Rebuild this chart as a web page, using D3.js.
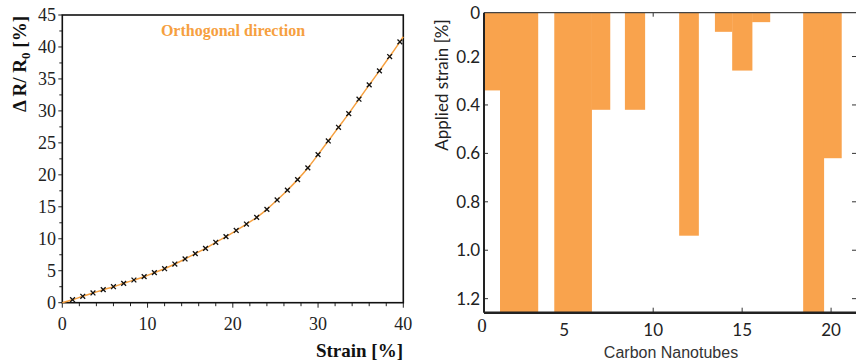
<!DOCTYPE html>
<html>
<head>
<meta charset="utf-8">
<script src="https://cdn.jsdelivr.net/npm/d3@7"></script>
<style>
  html, body { margin: 0; padding: 0; background: #fff; }
  svg { display: block; }
</style>
</head>
<body>
<svg id="chart" width="856" height="364"></svg>
<script>
// ---- Left panel: resistance change vs. strain (orthogonal direction) ----
const strain = [1.2, 2.4, 3.6, 4.8, 6.0, 7.2, 8.4, 9.6, 10.8, 12.0, 13.2, 14.4, 15.6, 16.8, 18.0,
  19.2, 20.4, 21.6, 22.8, 24.0, 25.2, 26.4, 27.6, 28.8, 30.0, 31.2, 32.4, 33.6, 34.8, 36.0,
  37.2, 38.4, 39.6];
const resistance = [0.47, 1.0, 1.52, 2.04, 2.5, 3.03, 3.55, 4.07, 4.7, 5.32, 6.05, 6.84, 7.67, 8.5, 9.45,
  10.33, 11.3, 12.3, 13.35, 14.6, 16.07, 17.6, 19.25, 21.08, 23.16, 25.3, 27.44, 29.58, 31.83, 34.07,
  36.26, 38.5, 40.8];
// fitted curve runs from the origin to the right frame edge
const fitStart = [0, 0];
const fitEnd = [40, 41.6];
const leftXTicks = [0, 10, 20, 30, 40];
const leftYTicks = [0, 5, 10, 15, 20, 25, 30, 35, 40, 45];

// ---- Right panel: strain at which each nanotube segment breaks ----
const segStart  = [0.49, 1.39, 4.44, 6.54, 8.41, 11.46, 13.47, 14.44, 15.56, 18.43, 19.59];
const segEnd    = [1.39, 3.52, 6.54, 7.57, 9.53, 12.55, 14.44, 15.56, 16.56, 19.59, 20.58];
const segStrain = [0.34, 1.26, 1.26, 0.42, 0.42, 0.94, 0.098, 0.258, 0.058, 1.26, 0.62];
const rightXTicks = [5, 10, 15, 20];
const rightYTicks = [0.2, 0.4, 0.6, 0.8, 1.0, 1.2];

const ORANGE_LINE = "#F6A03F";
const ORANGE_BAR = "#F9A34D";
const SERIF = "'Liberation Serif', 'Times New Roman', serif";

const svg = d3.select("#chart");

// ================= Left panel =================
const L = { left: 62.3, right: 403.3, top: 15, bottom: 302.7 };
const xL = d3.scaleLinear().domain([0, 40]).range([L.left, L.right]);
const yL = d3.scaleLinear().domain([0, 45]).range([L.bottom, L.top]);

const gL = svg.append("g");

// minor + major ticks, outward
const xMinor = d3.range(0, 40.001, 2);
gL.append("g").selectAll("line").data(xMinor).join("line")
  .attr("x1", d => xL(d)).attr("x2", d => xL(d))
  .attr("y1", L.bottom).attr("y2", d => L.bottom + (d % 10 === 0 ? 5 : 3.5))
  .attr("stroke", "#222").attr("stroke-width", 1);
const yMinor = d3.range(0, 45.001, 2.5);
gL.append("g").selectAll("line").data(yMinor).join("line")
  .attr("y1", d => yL(d)).attr("y2", d => yL(d))
  .attr("x1", L.left).attr("x2", d => L.left - (d % 5 === 0 ? 4 : 3))
  .attr("stroke", "#222").attr("stroke-width", 1);

// tick labels
gL.append("g").selectAll("text").data(leftXTicks).join("text")
  .attr("x", d => xL(d)).attr("y", 330)
  .attr("text-anchor", "middle")
  .attr("font-family", SERIF).attr("font-size", 18).attr("fill", "#222")
  .text(d => d);
gL.append("g").selectAll("text").data(leftYTicks).join("text")
  .attr("x", 56).attr("y", d => yL(d) + 6)
  .attr("text-anchor", "end")
  .attr("font-family", SERIF).attr("font-size", 18).attr("fill", "#222")
  .text(d => d);

// frame
gL.append("rect")
  .attr("x", L.left).attr("y", L.top)
  .attr("width", L.right - L.left).attr("height", L.bottom - L.top)
  .attr("fill", "none").attr("stroke", "#111").attr("stroke-width", 1.6);

// fitted curve
const curvePts = [fitStart].concat(strain.map((s, i) => [s, resistance[i]])).concat([fitEnd]);
gL.append("path")
  .datum(curvePts)
  .attr("fill", "none")
  .attr("stroke", ORANGE_LINE)
  .attr("stroke-width", 1.5)
  .attr("d", d3.line().x(d => xL(d[0])).y(d => yL(d[1])).curve(d3.curveCatmullRom));

// x markers
const m = 2.4;
const marks = gL.append("g").selectAll("g").data(strain).join("g")
  .attr("transform", (d, i) => `translate(${xL(d)},${yL(resistance[i])})`);
marks.append("path")
  .attr("d", `M${-m},${-m}L${m},${m}M${-m},${m}L${m},${-m}`)
  .attr("stroke", "#111").attr("stroke-width", 1.3);

// title and axis titles
gL.append("text")
  .attr("x", 233).attr("y", 36)
  .attr("text-anchor", "middle")
  .attr("font-family", SERIF).attr("font-weight", "bold").attr("font-size", 16)
  .attr("fill", ORANGE_LINE)
  .text("Orthogonal direction");

gL.append("text")
  .attr("x", 403).attr("y", 357)
  .attr("text-anchor", "end")
  .attr("font-family", SERIF).attr("font-weight", "bold").attr("font-size", 19)
  .attr("fill", "#111")
  .text("Strain [%]");

const yTitle = gL.append("text")
  .attr("transform", "translate(26,64) rotate(-90)")
  .attr("text-anchor", "middle")
  .attr("font-family", SERIF).attr("font-weight", "bold").attr("font-size", 19)
  .attr("fill", "#111");
yTitle.append("tspan").text("\u0394 R/ R");
yTitle.append("tspan").attr("font-size", 13).attr("dy", 4).text("0");
yTitle.append("tspan").attr("dy", -4).text(" [%]");

// ================= Right panel =================
const R = { left: 484, right: 856, top: 12.7, bottom: 312.7 };
const xR = d3.scaleLinear().domain([0.49, 21.4]).range([R.left, R.right]);
const yR = d3.scaleLinear().domain([0.019, 1.258]).range([R.top, R.bottom]);

const gR = svg.append("g");
gR.append("clipPath").attr("id", "plotR")
  .append("rect").attr("x", R.left).attr("y", R.top)
  .attr("width", R.right - R.left).attr("height", R.bottom - R.top);

// ticks (drawn beneath the bars)
const tickCol = "#333";
gR.append("g").selectAll("line").data(rightXTicks).join("line")
  .attr("x1", d => xR(d)).attr("x2", d => xR(d))
  .attr("y1", R.bottom).attr("y2", R.bottom - 5)
  .attr("stroke", tickCol).attr("stroke-width", 1);
gR.append("g").selectAll("line").data(rightXTicks).join("line")
  .attr("x1", d => xR(d)).attr("x2", d => xR(d))
  .attr("y1", R.top).attr("y2", R.top + 4)
  .attr("stroke", tickCol).attr("stroke-width", 1);
gR.append("g").selectAll("line").data(rightYTicks).join("line")
  .attr("x1", R.left).attr("x2", R.left + 4)
  .attr("y1", d => yR(d)).attr("y2", d => yR(d))
  .attr("stroke", tickCol).attr("stroke-width", 1);
gR.append("g").selectAll("line").data(rightYTicks).join("line")
  .attr("x1", R.right).attr("x2", R.right - 4)
  .attr("y1", d => yR(d)).attr("y2", d => yR(d))
  .attr("stroke", tickCol).attr("stroke-width", 1);

// bars hanging from zero strain
gR.append("g").attr("clip-path", "url(#plotR)")
  .selectAll("rect").data(segStrain).join("rect")
  .attr("x", (d, i) => xR(segStart[i]))
  .attr("width", (d, i) => xR(segEnd[i]) - xR(segStart[i]) + 0.3)
  .attr("y", yR(0))
  .attr("height", d => yR(d) - yR(0))
  .attr("fill", ORANGE_BAR);

// frame lines
gR.append("line")
  .attr("x1", R.left).attr("x2", R.right).attr("y1", R.top).attr("y2", R.top)
  .attr("stroke", "#444").attr("stroke-width", 1.2);
gR.append("line")
  .attr("x1", R.left).attr("x2", R.left).attr("y1", R.top).attr("y2", R.bottom)
  .attr("stroke", "#222").attr("stroke-width", 2);
gR.append("line")
  .attr("x1", R.left).attr("x2", R.right).attr("y1", R.bottom).attr("y2", R.bottom)
  .attr("stroke", "#222").attr("stroke-width", 2.4);

// tick labels
const SANS = "Lato, 'Open Sans', sans-serif";
gR.append("g").selectAll("text").data(rightYTicks).join("text")
  .attr("x", 480).attr("y", d => yR(d) + 6)
  .attr("text-anchor", "end")
  .attr("font-family", SANS).attr("font-size", 17).attr("fill", "#222")
  .text(d => d3.format(".1f")(d));
gR.append("text")
  .attr("x", 480).attr("y", R.top + 6)
  .attr("text-anchor", "end")
  .attr("font-family", SANS).attr("font-size", 17).attr("fill", "#222")
  .text("0");
gR.append("g").selectAll("text").data(rightXTicks).join("text")
  .attr("x", d => xR(d)).attr("y", 336)
  .attr("text-anchor", "middle")
  .attr("font-family", SANS).attr("font-size", 17).attr("fill", "#222")
  .text(d => d);
gR.append("text")
  .attr("x", 482).attr("y", 332)
  .attr("text-anchor", "middle")
  .attr("font-family", SERIF).attr("font-size", 19).attr("fill", "#222")
  .text("0");

// axis titles
gR.append("text")
  .attr("x", 671).attr("y", 358)
  .attr("text-anchor", "middle")
  .attr("font-family", "'Liberation Sans', Arial, sans-serif").attr("font-size", 16)
  .attr("fill", "#333")
  .text("Carbon Nanotubes");
gR.append("text")
  .attr("transform", "translate(448,85) rotate(-90)")
  .attr("text-anchor", "middle")
  .attr("font-family", SANS).attr("font-size", 17)
  .attr("fill", "#222")
  .text("Applied strain [%]");
</script>
</body>
</html>
